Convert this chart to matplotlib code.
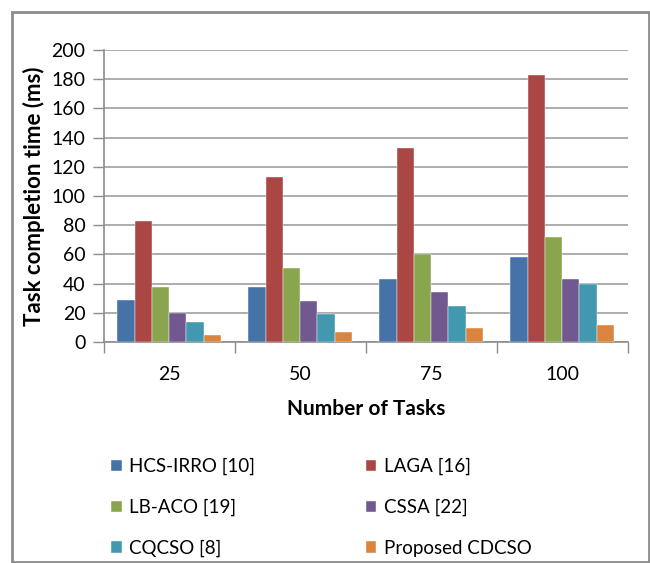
import matplotlib
matplotlib.use("Agg")
import matplotlib.pyplot as plt
from matplotlib.patches import Rectangle
import numpy as np

plt.rcParams['font.family'] = ['Lato', 'DejaVu Sans']

# Task completion time (ms) for each task count
tasks = ['25', '50', '75', '100']
methods = ['HCS-IRRO [10]', 'LAGA [16]', 'LB-ACO [19]', 'CSSA [22]',
           'CQCSO [8]', 'Proposed CDCSO']
hcs_irro = [29, 38, 43, 58]
laga = [83, 113, 133, 183]
lb_aco = [38, 51, 60, 72]
cssa = [20, 28, 34, 43]
cqcso = [13.5, 19.5, 24.5, 39.5]
cdcso = [4.6, 7, 9.6, 12]
colors = ['#4572A7', '#AA4643', '#89A54E', '#71588F', '#4198AF', '#DB843D']

series = [hcs_irro, laga, lb_aco, cssa, cqcso, cdcso]

fig = plt.figure(figsize=(6.5, 5.63), dpi=100)
ax = fig.add_axes([0.1595, 0.3925, 0.8062, 0.5187])

n = len(series)
group_w = 0.79
bar_w = group_w / n
x = np.arange(len(tasks)) + 0.5
bars = []
for i, (vals, c) in enumerate(zip(series, colors)):
    offs = -group_w / 2 + bar_w * (i + 0.5)
    b = ax.bar(x + offs, vals, width=bar_w, color=c, label=methods[i],
               edgecolor='white', linewidth=0.3, zorder=3)
    bars.append(b)

ax.set_ylim(0, 200)
ax.set_yticks(range(0, 201, 20))
ax.set_xlim(0, len(tasks))
ax.yaxis.grid(True, color='#A6A6A6', linewidth=1.3, zorder=0)
ax.set_axisbelow(True)

# category boundaries get the tick marks, labels sit at the centres
ax.set_xticks(np.arange(len(tasks) + 1))
ax.set_xticklabels([])
ax.set_xticks(x, minor=True)
ax.set_xticklabels(tasks, minor=True, fontsize=14)
ax.tick_params(axis='x', which='major', length=8, width=1, color='#8C8C8C',
               direction='out')
ax.tick_params(axis='x', which='minor', length=0, pad=17)
ax.tick_params(axis='y', length=8, width=1, color='#8C8C8C', labelsize=14,
               pad=5)

for side in ['top', 'right']:
    ax.spines[side].set_visible(False)
for side in ['left', 'bottom']:
    ax.spines[side].set_color('#8C8C8C')
    ax.spines[side].set_linewidth(1.2)

ax.set_ylabel('Task completion time (ms)', fontsize=16, fontweight='bold',
              labelpad=5)
ax.set_xlabel('Number of Tasks', fontsize=15, fontweight='bold', labelpad=12)

# legend is filled column by column, so reorder to read across rows
order = [0, 2, 4, 1, 3, 5]
fig.legend([bars[i] for i in order], [methods[i] for i in order], ncol=2,
           loc='upper left', bbox_to_anchor=(0.157, 0.203), frameon=False,
           fontsize=13.5, handlelength=0.55, handleheight=0.55, handletextpad=0.4,
           labelspacing=1.25, columnspacing=5.9, borderpad=0)

# outer chart border
fig.patches.append(Rectangle((12 / 650, 0.002), (649 - 12) / 650, 1 - 12 / 563 - 0.002,
                             transform=fig.transFigure, fill=False,
                             edgecolor='#8C8C8C', linewidth=2))

fig.savefig('out.png', dpi=100)
